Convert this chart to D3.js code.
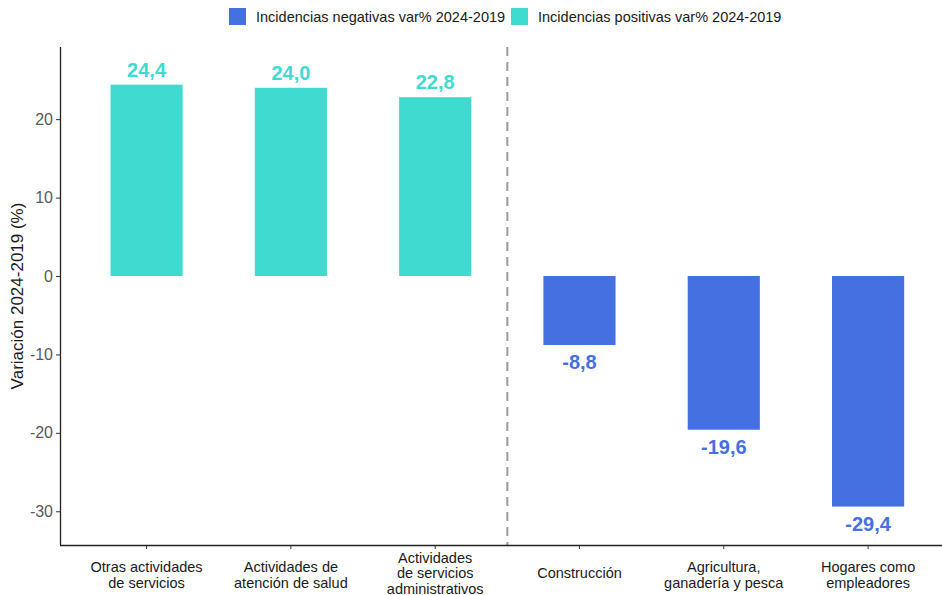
<!DOCTYPE html>
<html>
<head>
<meta charset="utf-8">
<script src="https://cdn.jsdelivr.net/npm/d3@7"></script>
<style>
  body { margin: 0; background: #fff; }
  text { font-family: "Liberation Sans", Arial, sans-serif; }
</style>
</head>
<body>
<svg id="chart" width="942" height="595"></svg>
<script>
// data
var categories = [
  ["Otras actividades", "de servicios"],
  ["Actividades de", "atención de salud"],
  ["Actividades", "de servicios", "administrativos"],
  ["Construcción"],
  ["Agricultura,", "ganadería y pesca"],
  ["Hogares como", "empleadores"]
];
var values = [24.4, 24.0, 22.8, -8.8, -19.6, -29.4];
var yTicks = [-30, -20, -10, 0, 10, 20];
var legendLabels = ["Incidencias negativas var% 2024-2019", "Incidencias positivas var% 2024-2019"];

var posColor = "#40DBD0", negColor = "#4470E2";
var margin = {left: 60, top: 47, bottom: 545};
var plotRight = 60 + 6.2 * 144.3;

var svg = d3.select("#chart");

var x = d3.scaleBand()
  .domain(d3.range(categories.length))
  .range([margin.left, plotRight])
  .paddingInner(0.5)
  .paddingOuter(0.35);

var y = d3.scaleLinear()
  .domain([-34.3, 29.2])
  .range([margin.bottom, margin.top]);

/* bars */
svg.append("g").selectAll("rect")
  .data(values)
  .enter().append("rect")
  .attr("x", function(d, i) { return x(i); })
  .attr("width", x.bandwidth())
  .attr("y", function(d) { return y(Math.max(0, d)); })
  .attr("height", function(d) { return Math.abs(y(d) - y(0)); })
  .style("fill", function(d) { return d >= 0 ? posColor : negColor; });

/* value labels */
svg.append("g").selectAll("text")
  .data(values)
  .enter().append("text")
  .attr("x", function(d, i) { return x(i) + x.bandwidth() / 2; })
  .attr("y", function(d) { return d >= 0 ? y(d) - 8 : y(d) + 24; })
  .attr("text-anchor", "middle")
  .style("font-size", "20px")
  .style("font-weight", "bold")
  .style("fill", function(d) { return d >= 0 ? posColor : negColor; })
  .text(function(d) { return d.toFixed(1).replace(".", ","); });

/* dashed separator between positives and negatives */
var sepX = (x(2) + x(3) + x.bandwidth()) / 2;
svg.append("line")
  .attr("x1", sepX).attr("x2", sepX)
  .attr("y1", margin.top).attr("y2", margin.bottom)
  .style("stroke", "#9a9a9a")
  .style("stroke-width", 2)
  .style("stroke-dasharray", "9,6");

/* y axis */
var yAxis = d3.axisLeft(y).tickValues(yTicks).tickSize(4).tickPadding(3)
  .tickFormat(function(d) { return String(d); });
var gy = svg.append("g")
  .attr("transform", "translate(" + margin.left + ",0)")
  .call(yAxis);
gy.select(".domain").attr("d", "M0.5," + margin.top + "V" + margin.bottom).style("stroke", "#222").style("stroke-width", 1.3);
gy.selectAll(".tick line").style("stroke", "#333");
gy.selectAll(".tick text").style("font-size", "16px").style("fill", "#595959").style("font-family", "Liberation Sans, Arial, sans-serif");

/* x axis */
var xAxis = d3.axisBottom(x).tickSize(4).tickFormat("");
var gx = svg.append("g")
  .attr("transform", "translate(0," + margin.bottom + ")")
  .call(xAxis);
gx.select(".domain").attr("d", "M" + margin.left + ",0.5H" + plotRight).style("stroke", "#222").style("stroke-width", 1.3);
gx.selectAll(".tick line").style("stroke", "#333");

gx.selectAll(".tick").each(function(d) {
  var lines = categories[d];
  var t = d3.select(this).append("text")
    .attr("text-anchor", "middle")
    .style("font-size", "14.5px")
    .style("fill", "#1a1a1a");
  var startY = lines.length === 1 ? 33 : (lines.length === 2 ? 27 : 17.5);
  lines.forEach(function(l, k) {
    t.append("tspan").attr("x", 0).attr("y", startY + k * 15.5).text(l);
  });
});

/* y axis title */
svg.append("text")
  .attr("transform", "translate(23," + ((margin.top + margin.bottom) / 2) + ") rotate(-90)")
  .attr("text-anchor", "middle")
  .style("font-size", "17px")
  .style("fill", "#1a1a1a")
  .text("Variación 2024-2019 (%)");

/* legend */
var legend = svg.append("g");
var legendItems = [
  {label: legendLabels[0], color: negColor, x: 229},
  {label: legendLabels[1], color: posColor, x: 511}
];
legendItems.forEach(function(it) {
  legend.append("rect")
    .attr("x", it.x).attr("y", 8)
    .attr("width", 17).attr("height", 17)
    .style("fill", it.color);
  legend.append("text")
    .attr("x", it.x + 27).attr("y", 22)
    .style("font-size", "14.5px")
    .style("fill", "#1a1a1a")
    .text(it.label);
});
</script>
</body>
</html>
